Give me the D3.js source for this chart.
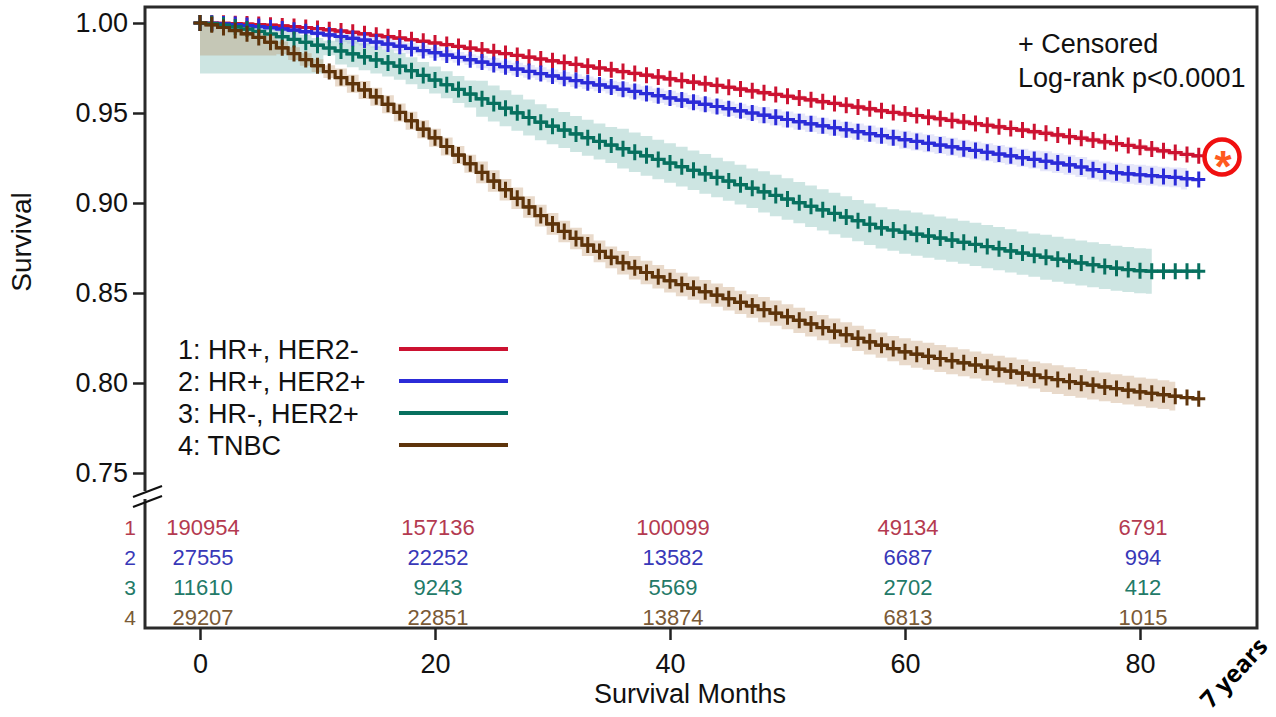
<!DOCTYPE html>
<html>
<head>
<meta charset="utf-8">
<script src="https://cdn.jsdelivr.net/npm/d3@7"></script>
<style>
  body { margin: 0; background: #fff; }
  svg { display: block; }
  text { font-family: 'Liberation Sans', Arial, sans-serif; }
</style>
</head>
<body>
<svg id="km" width="1276" height="717"></svg>
<script>
// groups and monthly survival estimates (months 0..85)
const groups = ['1: HR+, HER2-', '2: HR+, HER2+', '3: HR-, HER2+', '4: TNBC'];

const survHRposHER2neg = [
  1.0000, 0.9999, 0.9998, 0.9996, 0.9994, 0.9991, 0.9988, 0.9984, 0.9980, 0.9975,
  0.9969, 0.9962, 0.9955, 0.9948, 0.9940, 0.9932, 0.9924, 0.9916, 0.9907, 0.9898,
  0.9889, 0.9880, 0.9870, 0.9860, 0.9850, 0.9840, 0.9830, 0.9820, 0.9810, 0.9800,
  0.9790, 0.9780, 0.9770, 0.9760, 0.9750, 0.9740, 0.9730, 0.9720, 0.9710, 0.9700,
  0.9690, 0.9680, 0.9671, 0.9662, 0.9653, 0.9643, 0.9633, 0.9623, 0.9613, 0.9603,
  0.9593, 0.9583, 0.9573, 0.9563, 0.9553, 0.9543, 0.9533, 0.9523, 0.9513, 0.9503,
  0.9495, 0.9486, 0.9477, 0.9468, 0.9459, 0.9450, 0.9441, 0.9432, 0.9423, 0.9414,
  0.9405, 0.9396, 0.9387, 0.9378, 0.9369, 0.9360, 0.9350, 0.9340, 0.9330, 0.9320,
  0.9310, 0.9300, 0.9290, 0.9280, 0.9270, 0.9262
];
const survHRposHER2pos = [
  1.0000, 0.9998, 0.9995, 0.9991, 0.9986, 0.9980, 0.9974, 0.9967, 0.9960, 0.9952,
  0.9943, 0.9934, 0.9925, 0.9915, 0.9905, 0.9894, 0.9883, 0.9871, 0.9859, 0.9847,
  0.9835, 0.9822, 0.9809, 0.9796, 0.9783, 0.9770, 0.9757, 0.9744, 0.9731, 0.9719,
  0.9706, 0.9693, 0.9680, 0.9668, 0.9656, 0.9644, 0.9632, 0.9620, 0.9608, 0.9596,
  0.9584, 0.9572, 0.9560, 0.9548, 0.9536, 0.9524, 0.9512, 0.9500, 0.9488, 0.9476,
  0.9464, 0.9452, 0.9440, 0.9429, 0.9418, 0.9407, 0.9396, 0.9385, 0.9374, 0.9363,
  0.9352, 0.9342, 0.9332, 0.9322, 0.9312, 0.9302, 0.9292, 0.9282, 0.9272, 0.9262,
  0.9252, 0.9242, 0.9232, 0.9222, 0.9212, 0.9200, 0.9185, 0.9175, 0.9168, 0.9162,
  0.9157, 0.9152, 0.9147, 0.9142, 0.9135, 0.9130
];
const survHRnegHER2pos = [
  1.0000, 0.9996, 0.9988, 0.9978, 0.9966, 0.9953, 0.9939, 0.9924, 0.9909, 0.9893,
  0.9877, 0.9861, 0.9845, 0.9829, 0.9812, 0.9795, 0.9778, 0.9760, 0.9735, 0.9709,
  0.9683, 0.9657, 0.9631, 0.9605, 0.9579, 0.9553, 0.9527, 0.9501, 0.9475, 0.9449,
  0.9427, 0.9405, 0.9384, 0.9363, 0.9342, 0.9322, 0.9302, 0.9282, 0.9262, 0.9242,
  0.9222, 0.9202, 0.9182, 0.9162, 0.9142, 0.9122, 0.9102, 0.9082, 0.9062, 0.9042,
  0.9022, 0.9002, 0.8982, 0.8962, 0.8942, 0.8922, 0.8902, 0.8882, 0.8862, 0.8850,
  0.8838, 0.8827, 0.8816, 0.8805, 0.8794, 0.8782, 0.8770, 0.8758, 0.8746, 0.8734,
  0.8722, 0.8710, 0.8699, 0.8688, 0.8677, 0.8667, 0.8657, 0.8647, 0.8638, 0.8630,
  0.8624, 0.8621, 0.8621, 0.8621, 0.8621, 0.8621
];
const survTNBC = [
  1.0000, 0.9990, 0.9975, 0.9958, 0.9940, 0.9920, 0.9893, 0.9862, 0.9830, 0.9797,
  0.9763, 0.9730, 0.9697, 0.9663, 0.9628, 0.9590, 0.9548, 0.9503, 0.9457, 0.9410,
  0.9362, 0.9314, 0.9266, 0.9218, 0.9170, 0.9122, 0.9074, 0.9026, 0.8978, 0.8930,
  0.8884, 0.8842, 0.8803, 0.8766, 0.8731, 0.8698, 0.8668, 0.8640, 0.8614, 0.8590,
  0.8568, 0.8547, 0.8527, 0.8507, 0.8488, 0.8468, 0.8448, 0.8428, 0.8408, 0.8388,
  0.8368, 0.8348, 0.8328, 0.8308, 0.8288, 0.8268, 0.8248, 0.8229, 0.8210, 0.8191,
  0.8173, 0.8160, 0.8148, 0.8136, 0.8124, 0.8112, 0.8100, 0.8088, 0.8077, 0.8066,
  0.8055, 0.8044, 0.8030, 0.8019, 0.8008, 0.7998, 0.7988, 0.7978, 0.7969, 0.7960,
  0.7951, 0.7943, 0.7935, 0.7927, 0.7919, 0.7912
];

// confidence band half-width per year of follow-up, early lower floor, last month shown
const bandHalfHRposHER2neg = [0.0008, 0.0012, 0.0012, 0.0014, 0.0015, 0.0016, 0.0018, 0.0020];
const bandHalfHRposHER2pos = [0.0015, 0.0030, 0.0035, 0.0040, 0.0045, 0.0050, 0.0055, 0.0060];
const bandHalfHRnegHER2pos = [0.0040, 0.0075, 0.0100, 0.0110, 0.0115, 0.0120, 0.0125, 0.0125];
const bandHalfTNBC = [0.0035, 0.0050, 0.0060, 0.0065, 0.0070, 0.0075, 0.0080, 0.0090];
const bandFloor = [null, null, 0.972, 0.982];
const bandFloorUntil = [0, 0, 10, 6];
const bandEnd = [84, 84, 81, 83];

// number at risk
const riskMonths = [0, 20, 40, 60, 80];
const atRiskHRposHER2neg = [190954, 157136, 100099, 49134, 6791];
const atRiskHRposHER2pos = [27555, 22252, 13582, 6687, 994];
const atRiskHRnegHER2pos = [11610, 9243, 5569, 2702, 412];
const atRiskTNBC = [29207, 22851, 13874, 6813, 1015];

const xTicks = [0, 20, 40, 60, 80];
const yTicks = [0.75, 0.80, 0.85, 0.90, 0.95, 1.00];

const lineColors = ['#cc1231', '#2b2bd8', '#07705f', '#5e340b'];
const bandColors = ['#d8203f', '#3c46d8', '#5aa8a0', '#b07a45'];
const bandOpacity = [0.10, 0.13, 0.30, 0.28];
const riskColors = ['#b43a50', '#3838b8', '#237a68', '#7a5a36'];

const survs = [survHRposHER2neg, survHRposHER2pos, survHRnegHER2pos, survTNBC];
const halves = [bandHalfHRposHER2neg, bandHalfHRposHER2pos, bandHalfHRnegHER2pos, bandHalfTNBC];
const risks = [atRiskHRposHER2neg, atRiskHRposHER2pos, atRiskHRnegHER2pos, atRiskTNBC];

const svg = d3.select('#km');

let x = d3.scaleLinear().domain([0, 80]).range([200, 1140]);
let y = d3.scaleLinear().domain([0.75, 1.0]).range([473, 23]);
let rowY = d3.scalePoint().domain([1, 2, 3, 4]).range([527, 617]);

const series = groups.map((name, i) => {
  const pts = survs[i].map((s, m) => ({ m, s }));
  const band = pts
    .filter((d) => d.m <= bandEnd[i])
    .map((d) => {
      const h = halves[i][Math.floor(d.m / 12)];
      let lo = d.s - h;
      if (bandFloor[i] !== null && d.m <= bandFloorUntil[i]) lo = Math.min(lo, bandFloor[i]);
      return { m: d.m, lo, hi: Math.min(1, d.s + h) };
    });
  return { name, pts, band, i };
});

// bands
let area = d3.area()
  .x((d) => x(d.m))
  .y0((d) => y(d.lo))
  .y1((d) => y(d.hi))
  .curve(d3.curveStep);

series.forEach((s) => {
  svg.append('path')
    .attr('d', area(s.band))
    .attr('fill', bandColors[s.i])
    .attr('fill-opacity', bandOpacity[s.i]);
});

// curves + censor marks
let line = d3.line()
  .x((d) => x(d.m))
  .y((d) => y(d.s))
  .curve(d3.curveStep);

series.forEach((s) => {
  svg.append('path')
    .attr('d', line(s.pts))
    .attr('fill', 'none')
    .attr('stroke', lineColors[s.i])
    .attr('stroke-width', 3.2);

  svg.append('g')
    .selectAll('path')
    .data(s.pts)
    .join('path')
    .attr('d', (d) => {
      const cx = x(d.m), cy = y(d.s);
      return `M${cx - 6.5},${cy}H${cx + 6.5}M${cx},${cy - 8}V${cy + 8}`;
    })
    .attr('stroke', lineColors[s.i])
    .attr('stroke-width', 3)
    .attr('fill', 'none');
});

// frame
svg.append('rect')
  .attr('x', 145).attr('y', 7)
  .attr('width', 1112).attr('height', 621)
  .attr('fill', 'none')
  .attr('stroke', '#2a2a2a')
  .attr('stroke-width', 3);

// axes
let yAxis = svg.append('g')
  .attr('transform', 'translate(145,0)')
  .call(d3.axisLeft(y).tickValues(yTicks).tickFormat(d3.format('.2f')).tickSize(12).tickPadding(5));
yAxis.select('.domain').remove();
yAxis.selectAll('line').attr('stroke', '#222').attr('stroke-width', 2.5);
yAxis.selectAll('text').attr('font-size', 27).attr('fill', '#111')
  .style('font-family', "'Liberation Sans', Arial, sans-serif");

let xAxis = svg.append('g')
  .attr('transform', 'translate(0,628)')
  .call(d3.axisBottom(x).tickValues(xTicks).tickSize(12).tickPadding(14));
xAxis.select('.domain').remove();
xAxis.selectAll('line').attr('stroke', '#222').attr('stroke-width', 2.5);
xAxis.selectAll('text').attr('font-size', 27).attr('fill', '#111')
  .style('font-family', "'Liberation Sans', Arial, sans-serif");

// axis break marks
svg.append('rect').attr('x', 140).attr('y', 491).attr('width', 12).attr('height', 8).attr('fill', '#fff');
[0, 10].forEach((dy) => {
  svg.append('line')
    .attr('x1', 133).attr('y1', 497 + dy)
    .attr('x2', 162).attr('y2', 486 + dy)
    .attr('stroke', '#111').attr('stroke-width', 2.2);
});

svg.append('text')
  .attr('x', 690).attr('y', 703)
  .attr('text-anchor', 'middle')
  .attr('font-size', 27).attr('fill', '#111')
  .text('Survival Months');

svg.append('text')
  .attr('transform', 'translate(31,242) rotate(-90)')
  .attr('text-anchor', 'middle')
  .attr('font-size', 28).attr('fill', '#111')
  .text('Survival');

// annotation text
svg.append('text').attr('x', 1018).attr('y', 53)
  .attr('font-size', 27).attr('fill', '#111').text('+ Censored');
svg.append('text').attr('x', 1018).attr('y', 87)
  .attr('font-size', 27).attr('fill', '#111').text('Log-rank p<0.0001');

// legend
let legendY = d3.scalePoint().domain(groups).range([349, 445]);
groups.forEach((g, i) => {
  svg.append('text')
    .attr('x', 178).attr('y', legendY(g))
    .attr('dy', '0.36em')
    .attr('font-size', 27).attr('fill', '#111')
    .text(g);
  svg.append('line')
    .attr('x1', 399).attr('x2', 508)
    .attr('y1', legendY(g)).attr('y2', legendY(g))
    .attr('stroke', lineColors[i]).attr('stroke-width', 4);
});

// number at risk table
risks.forEach((row, i) => {
  svg.append('text')
    .attr('x', 130).attr('y', rowY(i + 1))
    .attr('dy', '0.36em')
    .attr('text-anchor', 'middle')
    .attr('font-size', 21).attr('fill', riskColors[i])
    .text(i + 1);
  row.forEach((n, j) => {
    svg.append('text')
      .attr('x', x(riskMonths[j]) + 3).attr('y', rowY(i + 1))
      .attr('dy', '0.36em')
      .attr('text-anchor', 'middle')
      .attr('font-size', 22).attr('fill', riskColors[i])
      .text(n);
  });
});

// highlight at 7 years
svg.append('circle')
  .attr('cx', 1222).attr('cy', 157).attr('r', 17.5)
  .attr('fill', 'none').attr('stroke', '#f01010').attr('stroke-width', 4.5);
svg.append('text')
  .attr('x', 1223).attr('y', 182)
  .attr('text-anchor', 'middle')
  .attr('font-size', 44).attr('font-weight', 'bold').attr('fill', '#ff5a1e')
  .text('*');

svg.append('text')
  .attr('transform', 'translate(1234,673) rotate(-47)')
  .attr('text-anchor', 'middle')
  .attr('dy', '0.35em')
  .style('font-family', "'Open Sans', sans-serif")
  .attr('font-size', 24).attr('font-weight', 'bold').attr('fill', '#000')
  .text('7 years');
</script>
</body>
</html>
